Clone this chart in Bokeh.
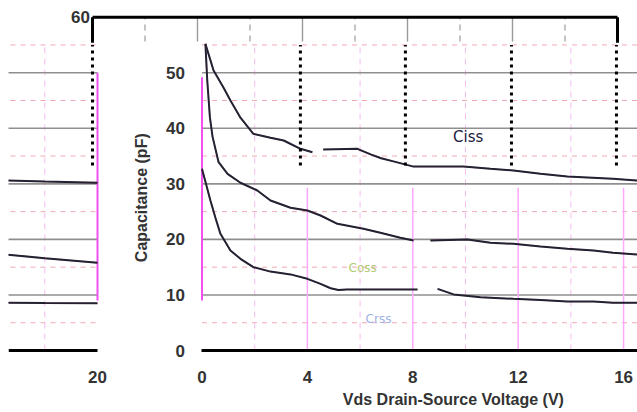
from math import pi
from bokeh.plotting import figure
from bokeh.models import Range1d, LinearAxis, FixedTicker, Label
from bokeh.core.properties import value
from bokeh.embed import file_html
from bokeh.resources import INLINE

nan = float("nan")

# ---- data (Vds in V, capacitance in pF) ----
ciss_vds = [0.13, 0.44, 0.82, 1.08, 1.46, 1.95, 2.6, 3.1, 3.74, 4.19, nan,
            4.6, 5.9, 6.4, 6.8, 7.3, 8.03, 9.92, 10.95, 11.82, 12.85, 13.87,
            15.6, 16.5, 18.0, 20.0]
ciss_pf = [55.2, 50.4, 47.3, 45.0, 41.9, 39.0, 38.3, 37.8, 36.3, 35.7, nan,
           36.2, 36.3, 35.3, 34.6, 34.0, 33.1, 33.1, 32.7, 32.4, 31.8, 31.3,
           30.9, 30.6, 30.4, 30.2]

coss_vds = [0.13, 0.2, 0.3, 0.4, 0.63, 0.97, 1.46, 2.1, 2.6, 3.36, 4.0, 4.5,
            5.14, 6.13, 6.77, 7.53, 8.03, nan, 8.67, 10.07, 10.95, 11.82,
            12.85, 13.87, 14.86, 15.6, 16.5, 18.0, 20.0]
coss_pf = [55.2, 48.6, 42.0, 38.5, 33.9, 31.8, 30.2, 28.8, 27.0, 25.7, 25.2,
           24.3, 22.8, 21.9, 21.2, 20.3, 19.8, nan, 19.8, 20.0, 19.4, 19.2,
           18.7, 18.3, 18.0, 17.6, 17.3, 16.6, 15.8]

crss_vds = [0.0, 0.32, 0.51, 0.7, 1.08, 1.46, 1.95, 2.6, 3.36, 4.0, 4.5, 4.88,
            5.18, 5.5, 8.18, nan, 8.94, 9.55, 10.57, 11.82, 12.85, 13.87,
            14.86, 15.6, 16.5, 18.0, 20.0]
crss_pf = [32.7, 27.0, 23.9, 21.0, 18.0, 16.5, 15.0, 14.2, 13.7, 12.9, 12.0,
           11.2, 10.9, 11.0, 11.0, nan, 11.1, 10.1, 9.6, 9.3, 9.1, 8.8, 8.8,
           8.6, 8.6, 8.55, 8.5]

series_names = ["Ciss", "Coss", "Crss"]
label_vds = [10.1, 6.1, 6.7]
label_pf = [38.5, 14.9, 5.75]

x_ticks = [0, 4, 8, 12, 16, 20]
x_major_inner = [4, 8, 12, 16]
x_minor = [2, 6, 10, 14, 18]
x_edges = [0, 20]
y_ticks = [0, 10, 20, 30, 40, 50]
y_major = [10, 20, 30, 40, 50]
y_minor = [5, 15, 25, 35, 45, 55]
y_top = 60
top_major = [4, 8, 12, 16]
top_minor = [2, 6, 10, 14, 18]
top_edges = [0, 20]
top_dotted = [0, 7.92, 11.92, 15.96, 19.96]

# ---- figure ----
p = figure(width=637, height=412, output_backend="svg", toolbar_location=None,
           x_range=Range1d(-7.343, 16.528), y_range=Range1d(-11.16, 63.0),
           x_axis_type=None, y_axis_type=None,
           min_border_left=8, min_border_right=0, min_border_top=0,
           min_border_bottom=0)
p.outline_line_color = None
p.background_fill_color = "white"
p.border_fill_color = "white"
p.extra_x_ranges = {"wrap": Range1d(16.622, 40.493),
                    "top": Range1d(-3.2, 20.762)}

xmin, xmax = x_edges[0], x_edges[1]

for rn in ["default", "wrap"]:
    # minor (dashed) grid
    p.segment(x0=[xmin] * len(y_minor), y0=y_minor, x1=[xmax] * len(y_minor),
              y1=y_minor, line_color="#f2a9b3", line_dash="5 5",
              line_width=1, x_range_name=rn)
    p.segment(x0=x_minor, y0=[0] * len(x_minor), x1=x_minor,
              y1=[y_minor[-1]] * len(x_minor), line_color="#f7bdf0",
              line_dash="6 5", line_width=1, x_range_name=rn)
    # major horizontal grid
    p.segment(x0=[xmin] * len(y_major), y0=y_major, x1=[xmax] * len(y_major),
              y1=y_major, line_color="#8f8f8f", line_width=1.6,
              x_range_name=rn)
    # pink vertical lines
    p.segment(x0=x_major_inner, y0=[0] * 4, x1=x_major_inner, y1=[29.3] * 4,
              line_color="#ffa8ff", line_width=1.5, x_range_name=rn)
    p.segment(x0=x_edges, y0=[9, 9], x1=x_edges, y1=[49.2, 50],
              line_color="#f050f0", line_width=2, x_range_name=rn)
    # curves
    for xs, ys in [(ciss_vds, ciss_pf), (coss_vds, coss_pf), (crss_vds, crss_pf)]:
        p.line(x=xs, y=ys, line_color="#e05070", line_width=1.4,
               line_alpha=0.6, x_range_name=rn)
        p.line(x=xs, y=ys, line_color="#222233", line_width=2,
               x_range_name=rn)

# shifted top strip
p.segment(x0=top_minor, y0=[55.6] * 5, x1=top_minor, y1=[y_top] * 5,
          line_color="#aaaaaa", line_dash="6 5", line_width=1.4,
          x_range_name="top")
p.segment(x0=top_major, y0=[55.6] * 4, x1=top_major, y1=[y_top] * 4,
          line_color="#9a9a9a", line_width=1.4, x_range_name="top")
p.segment(x0=[top_edges[0]], y0=[y_top], x1=[top_edges[1]], y1=[y_top],
          line_color="black", line_width=3, x_range_name="top")
p.segment(x0=top_edges, y0=[55.4] * 2, x1=top_edges, y1=[y_top] * 2,
          line_color="black", line_width=3, x_range_name="top")
p.segment(x0=top_dotted, y0=[33.3] * 5, x1=top_dotted, y1=[y_minor[-1]] * 5,
          line_color="black", line_width=3, line_dash="3 4",
          x_range_name="top")
p.text(x=[-0.1], y=[y_top], text=[str(y_top)], text_align="right",
       text_baseline="middle", text_font=value("Liberation Sans"),
       text_font_style="bold", text_font_size="17px", text_color="#333333",
       x_range_name="top")

# series labels
label_styles = [("#1b1b40", "15px"), ("#b2c977", "12px"), ("#9eb2e4", "12px")]
for i, name in enumerate(series_names):
    col, fs = label_styles[i]
    p.text(x=[label_vds[i]], y=[label_pf[i]], text=[name], text_align="center",
           text_baseline="middle", text_font=value("DejaVu Sans"),
           text_font_size=fs, text_color=col)

# axes
yaxis = LinearAxis(ticker=FixedTicker(ticks=y_ticks), fixed_location=0,
                   axis_line_color=None, major_tick_line_color=None,
                   minor_tick_line_color=None, major_label_standoff=11,
                   major_label_text_font="Liberation Sans",
                   major_label_text_font_style="bold",
                   major_label_text_font_size="17px",
                   major_label_text_color="#333333")
p.add_layout(yaxis, "left")
for rn, bnds in [("default", (0, 20)), ("wrap", (16.622, 20))]:
    xa = LinearAxis(x_range_name=rn, ticker=FixedTicker(ticks=x_ticks),
                    fixed_location=0, bounds=bnds, axis_line_width=3,
                    axis_line_color="black", major_tick_line_color=None,
                    minor_tick_line_color=None, major_label_standoff=14,
                    major_label_text_font="Liberation Sans",
                    major_label_text_font_style="bold",
                    major_label_text_font_size="17px",
                    major_label_text_color="#333333")
    p.add_layout(xa, "below")

p.add_layout(Label(x=-2.30, y=27.5, text="Capacitance (pF)", angle=pi / 2,
                   text_align="center", text_baseline="middle",
                   text_font="Liberation Sans", text_font_style="bold",
                   text_font_size="16px", text_color="#333333"))
p.add_layout(Label(x=9.54, y=-7.3, text="Vds Drain-Source Voltage (V)",
                   text_align="center", text_baseline="top",
                   text_font="Liberation Sans", text_font_style="bold",
                   text_font_size="16px", text_color="#333333"))

open("out.html", "w").write(file_html(p, INLINE))
